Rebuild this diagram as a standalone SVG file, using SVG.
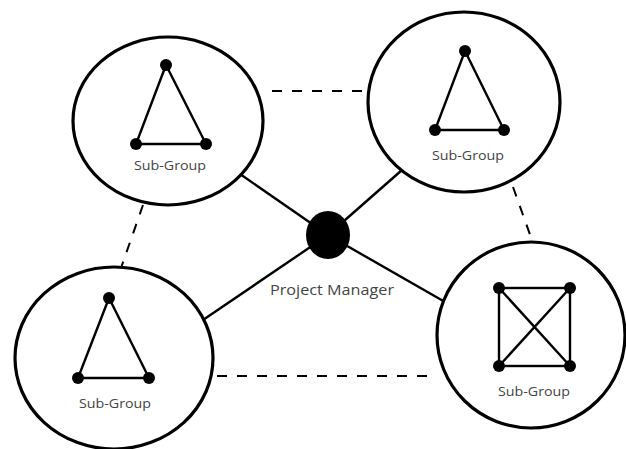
<svg xmlns="http://www.w3.org/2000/svg" width="626" height="449" viewBox="0 0 626 449">
<style>
.group{fill:#fff;stroke:#000;stroke-width:3.2}
.edge{stroke:#000;stroke-width:2.4;fill:none}
.dash{stroke:#000;stroke-width:2;stroke-dasharray:10 10;fill:none}
.in{stroke:#000;stroke-width:2.4;fill:none}
.dot{fill:#000}
.lbl{font-family:"Open Sans","Noto Sans",sans-serif;font-size:13.5px;fill:#444;text-anchor:middle}
</style>
<rect width="626" height="449" fill="#fff"/>
<g id="connectors">
<line class="edge" x1="240" y1="174" x2="328" y2="235"/>
<line class="edge" x1="402" y1="170" x2="328" y2="235"/>
<line class="edge" x1="200" y1="322" x2="328" y2="235"/>
<line class="edge" x1="445" y1="302" x2="328" y2="235"/>
<line class="dash" x1="272" y1="91" x2="367" y2="91"/>
<line class="dash" x1="143" y1="205" x2="121" y2="268"/>
<line class="dash" x1="513" y1="187" x2="533" y2="243"/>
<line class="dash" x1="217" y1="376" x2="435" y2="376"/>
</g>
<g id="sg-top-left">
<ellipse class="group" cx="168" cy="121" rx="95" ry="84"/>
<polygon class="in" points="166,65 136,144 206,144"/>
<circle class="dot" cx="166" cy="65" r="6"/>
<circle class="dot" cx="136" cy="144" r="6"/>
<circle class="dot" cx="206" cy="144" r="6"/>
<text class="lbl" x="170" y="170" textLength="72" lengthAdjust="spacingAndGlyphs">Sub-Group</text>
</g>
<g id="sg-top-right">
<ellipse class="group" cx="464" cy="102" rx="96" ry="90"/>
<polygon class="in" points="465,51 435,130 504,130"/>
<circle class="dot" cx="465" cy="51" r="6"/>
<circle class="dot" cx="435" cy="130" r="6"/>
<circle class="dot" cx="504" cy="130" r="6"/>
<text class="lbl" x="468" y="160" textLength="72" lengthAdjust="spacingAndGlyphs">Sub-Group</text>
</g>
<g id="sg-bottom-left">
<ellipse class="group" cx="114" cy="358" rx="99" ry="91"/>
<polygon class="in" points="109,298 78,378 149,378"/>
<circle class="dot" cx="109" cy="298" r="6"/>
<circle class="dot" cx="78" cy="378" r="6"/>
<circle class="dot" cx="149" cy="378" r="6"/>
<text class="lbl" x="115" y="408" textLength="72" lengthAdjust="spacingAndGlyphs">Sub-Group</text>
</g>
<g id="sg-bottom-right">
<ellipse class="group" cx="531" cy="335" rx="94" ry="93"/>
<rect class="in" x="499" y="288" width="71" height="78"/>
<line class="in" x1="499" y1="288" x2="570" y2="366"/>
<line class="in" x1="570" y1="288" x2="499" y2="366"/>
<circle class="dot" cx="499" cy="288" r="6"/>
<circle class="dot" cx="570" cy="288" r="6"/>
<circle class="dot" cx="499" cy="366" r="6"/>
<circle class="dot" cx="570" cy="366" r="6"/>
<text class="lbl" x="534" y="396" textLength="72" lengthAdjust="spacingAndGlyphs">Sub-Group</text>
</g>
<g id="project-manager">
<ellipse cx="328" cy="235" rx="22" ry="24" fill="#000"/>
<text class="lbl" x="332" y="295" style="font-size:15px" textLength="124" lengthAdjust="spacingAndGlyphs">Project Manager</text>
</g>
</svg>
